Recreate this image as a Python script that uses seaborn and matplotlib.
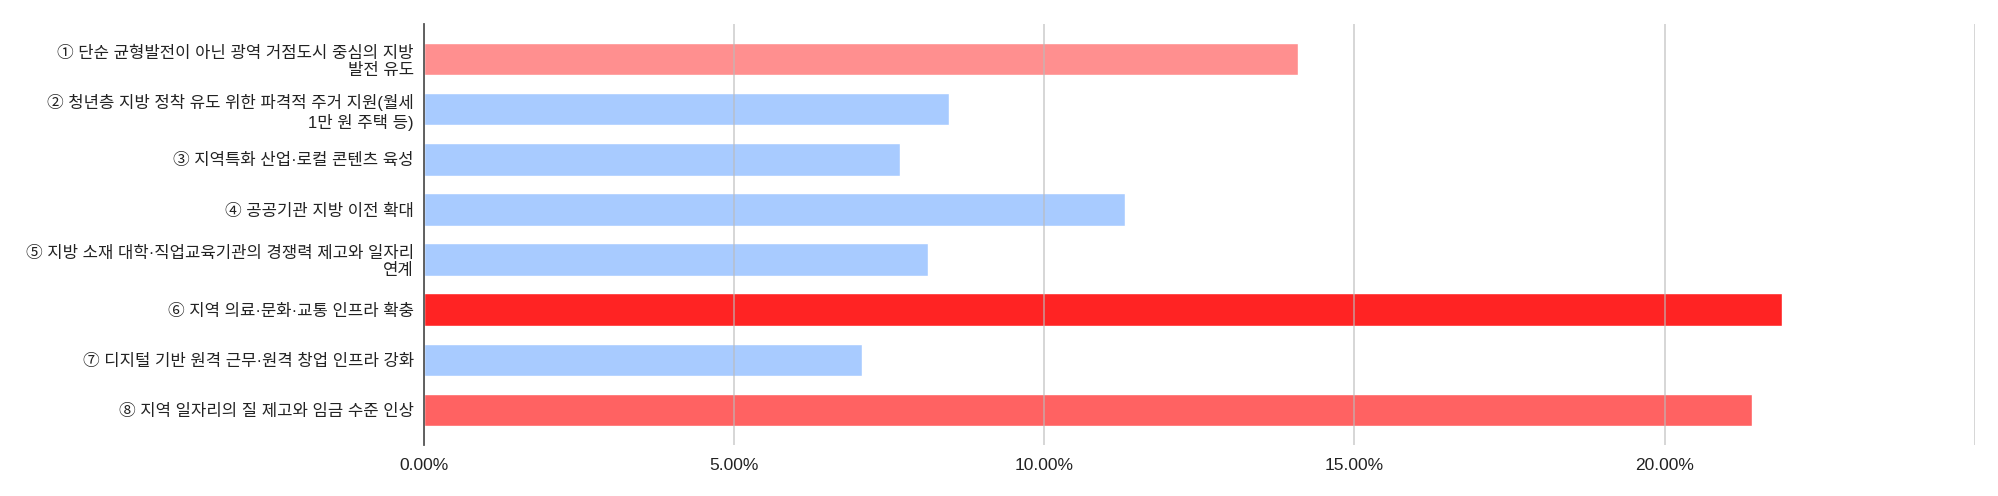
import matplotlib
matplotlib.use("Agg")
import matplotlib.pyplot as plt
import seaborn as sns
import pandas as pd
from matplotlib.ticker import FuncFormatter, MultipleLocator

categories = [
    "① 단순 균형발전이 아닌 광역 거점도시 중심의 지방\n발전 유도",
    "② 청년층 지방 정착 유도 위한 파격적 주거 지원(월세\n1만 원 주택 등)",
    "③ 지역특화 산업·로컬 콘텐츠 육성",
    "④ 공공기관 지방 이전 확대",
    "⑤ 지방 소재 대학·직업교육기관의 경쟁력 제고와 일자리\n연계",
    "⑥ 지역 의료·문화·교통 인프라 확충",
    "⑦ 디지털 기반 원격 근무·원격 창업 인프라 강화",
    "⑧ 지역 일자리의 질 제고와 임금 수준 인상",
]
values = [14.10, 8.47, 7.68, 11.31, 8.13, 21.89, 7.06, 21.41]
colors = ["#FF8F8F", "#A8CBFF", "#A8CBFF", "#A8CBFF", "#A8CBFF", "#FF2323", "#A8CBFF", "#FF6262"]

sns.set_theme(style="white")
plt.rcParams["font.family"] = ["Liberation Sans", "Noto Sans CJK KR", "DejaVu Sans"]

df = pd.DataFrame({"category": categories, "value": values})

fig = plt.figure(figsize=(19.99, 4.96), dpi=100)
ax = fig.add_axes([0.2119, 0.1028, 0.9879 - 0.2119, 0.9516 - 0.1028])

sns.barplot(data=df, y="category", x="value", hue="category", palette=colors,
            legend=False, width=0.65, orient="h", ax=ax, saturation=1, zorder=2)

ax.set_xlim(0, 25)
ax.set_ylim(7.7, -0.7)
ax.xaxis.set_major_locator(MultipleLocator(5))
ax.xaxis.set_major_formatter(FuncFormatter(lambda v, p: "" if v >= 25 else f"{v:.2f}%"))
ax.grid(axis="x", color="#BBBBBB", linewidth=1.4, alpha=0.6, zorder=3)
ax.set_axisbelow(False)
ax.set_xlabel("")
ax.set_ylabel("")

for s in ["top", "right", "bottom"]:
    ax.spines[s].set_visible(False)
ax.spines["left"].set_color("#555555")
ax.spines["left"].set_linewidth(1.3)
ax.spines["left"].set_zorder(4)

ax.tick_params(axis="x", length=0, pad=9, labelsize=12.5, labelcolor="#222222")
ax.tick_params(axis="y", length=0, pad=7, labelsize=12, labelcolor="#222222")
for t in ax.get_yticklabels():
    t.set_linespacing(1.2)
    t.set_horizontalalignment("right")
    t.set_multialignment("right")

fig.savefig("out.png", dpi=100)
